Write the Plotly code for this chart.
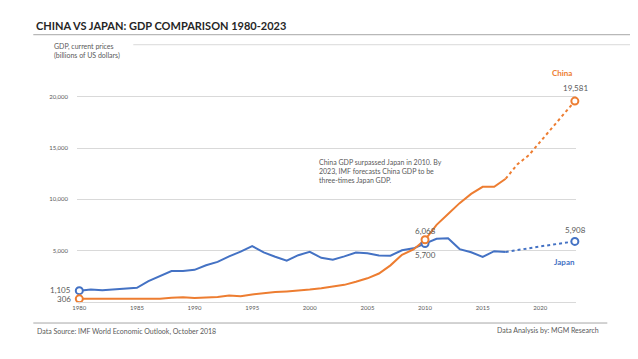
import plotly.graph_objects as go

years = list(range(1980, 2018))
japan = [1105, 1219, 1135, 1243, 1318, 1385, 2031, 2485, 3016, 3017, 3133, 3585, 3909, 4454,
         4908, 5449, 4833, 4414, 4033, 4563, 4888, 4304, 4115, 4446, 4815, 4755, 4530, 4515,
         5038, 5231, 5700, 6157, 6203, 5156, 4850, 4395, 4949, 4872]
china = [306, 290, 285, 306, 315, 310, 301, 328, 413, 459, 398, 415, 495, 623, 566, 737, 868,
         965, 1032, 1097, 1214, 1344, 1477, 1671, 1966, 2309, 2774, 3571, 4604, 5122, 6068,
         7522, 8570, 9635, 10535, 11226, 11222, 12015]
f_years = [2017, 2018, 2019, 2020, 2021, 2022, 2023]
japan_f = [4872, 5070, 5250, 5420, 5580, 5740, 5908]
china_f = [12015, 13400, 14300, 15600, 16900, 18200, 19581]
y_ticks = [5000, 10000, 15000, 20000]
x_ticks = [1980, 1985, 1990, 1995, 2000, 2005, 2010, 2015, 2020]

ORANGE = "#ED7D31"
BLUE = "#4472C4"
GREY = "#595959"
FONT = "Lato"

OFF = 8  # page body margin
W, H = 638 - OFF, 359 - OFF
L, R = 76.7 - OFF, 575.7 - OFF
T, B = 66.25 - OFF, 302.0 - OFF

def px(x):
    return (x - OFF - L) / (R - L)

def py(y):
    return (B - (y - OFF)) / (B - T)

fig = go.Figure()
fig.add_trace(go.Scatter(x=years, y=japan, mode="lines", line=dict(color=BLUE, width=2), hoverinfo="skip"))
fig.add_trace(go.Scatter(x=years, y=china, mode="lines", line=dict(color=ORANGE, width=2), hoverinfo="skip"))
fig.add_trace(go.Scatter(x=f_years, y=japan_f, mode="lines", line=dict(color=BLUE, width=2, dash="dot"), hoverinfo="skip"))
fig.add_trace(go.Scatter(x=f_years, y=china_f, mode="lines", line=dict(color=ORANGE, width=2, dash="dot"), hoverinfo="skip"))

mk_years = [1980, 2010, 2023]
jp_all = dict(zip(years, japan)); jp_all.update(dict(zip(f_years, japan_f)))
cn_all = dict(zip(years, china)); cn_all.update(dict(zip(f_years, china_f)))
fig.add_trace(go.Scatter(x=mk_years, y=[jp_all[y] for y in mk_years], mode="markers", cliponaxis=False,
                         marker=dict(color="white", size=7, line=dict(color=BLUE, width=2)), hoverinfo="skip"))
fig.add_trace(go.Scatter(x=mk_years, y=[cn_all[y] for y in mk_years], mode="markers", cliponaxis=False,
                         marker=dict(color="white", size=7, line=dict(color=ORANGE, width=2)), hoverinfo="skip"))

ann = []
def text(x, y, s, size=7, color=GREY, xa="left", ya="middle", bold=False):
    if bold:
        s = "<b>" + s + "</b>"
    ann.append(dict(x=x, y=y, xref="paper", yref="paper",
                    text=s, showarrow=False, xanchor=xa, yanchor=ya, align="left",
                    font=dict(family=FONT, size=size, color=color)))

text(px(34), py(26), "CHINA VS JAPAN: GDP COMPARISON 1980-2023", size=11, color="#262626", bold=True)
text(px(52), py(51), "GDP, current prices<br>(billions of US dollars)", size=7)
text(px(35), py(331), "Data Source: IMF World Economic Outlook, October 2018", size=7)
text(px(601), py(330), "Data Analysis by: MGM Research", size=7, xa="right")
text(px(317), py(171), "China GDP surpassed Japan in 2010. By<br>2023, IMF forecasts China GDP to be<br>three-times Japan GDP.", size=7)
text(px(574), py(73), "China", size=8, color=ORANGE, xa="right", bold=True)
text(px(577), py(262), "Japan", size=8, color=BLUE, xa="right", bold=True)
text(px(575), py(88), "19,581", size=8, xa="center")
text(px(575), py(230), "5,908", size=8, xa="center")
text(px(425), py(231), "6,068", size=8, xa="center")
text(px(425), py(255), "5,700", size=8, xa="center")
text(px(73), py(290), "1,105", size=8, xa="right")
text(px(73), py(299), "306", size=8, xa="right")

shapes = [
    dict(type="line", xref="paper", yref="paper", x0=px(33), x1=px(640), y0=py(35), y1=py(35),
         line=dict(color="#A6A6A6", width=1)),
    dict(type="line", xref="paper", yref="paper", x0=px(133), x1=px(640), y0=py(45), y1=py(45),
         line=dict(color="#D9D9D9", width=1)),
    dict(type="line", xref="paper", yref="paper", x0=px(33), x1=px(607), y0=py(323), y1=py(323),
         line=dict(color="#A6A6A6", width=1)),
]

fig.update_layout(
    width=W, height=H, showlegend=False,
    margin=dict(l=L, r=W - R, t=T, b=H - B, pad=0, autoexpand=False),
    paper_bgcolor="white", plot_bgcolor="white",
    annotations=ann, shapes=shapes,
    xaxis=dict(range=[1979.8, 2023.1], tickvals=x_ticks, showgrid=False, zeroline=False,
               showline=True, linecolor="#D9D9D9", linewidth=1, ticks="", automargin=False,
               tickfont=dict(family=FONT, size=6, color=GREY)),
    yaxis=dict(range=[0, 23000], tickvals=y_ticks, tickformat=",", showgrid=True,
               gridcolor="#D9D9D9", gridwidth=1, zeroline=False, showline=False, ticks="",
               automargin=False, ticklabelstandoff=8, tickfont=dict(family=FONT, size=6, color=GREY)),
)
fig.write_html("out.html")
